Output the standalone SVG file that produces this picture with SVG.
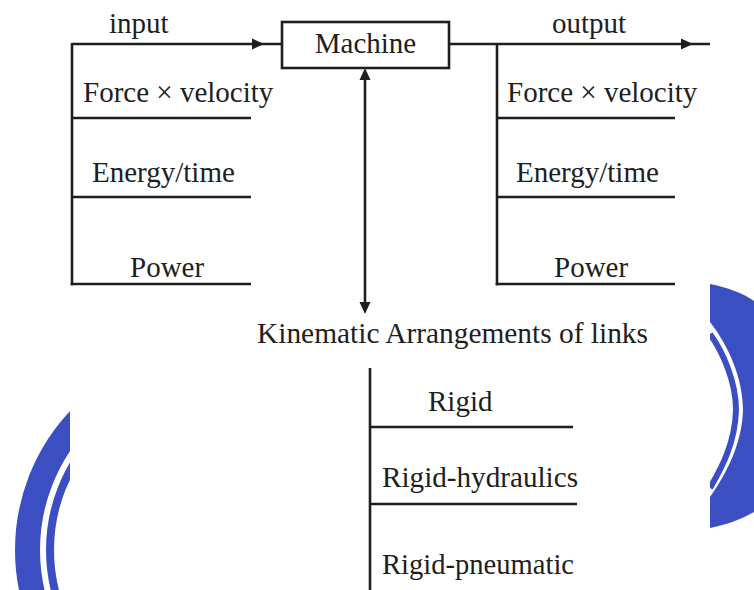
<svg xmlns="http://www.w3.org/2000/svg" xmlns:xlink="http://www.w3.org/1999/xlink" width="754" height="590" viewBox="0 0 754 590">
<style>
  text { font-family: "Liberation Serif", "Times New Roman", serif; font-size: 29px; fill: #1e1e1e; }
  .ln { stroke: #1e1e1e; stroke-width: 2.6; fill: none; stroke-linecap: butt; }
  .stamp { fill: none; stroke: #3c4fc2; }
  .stampfill { fill: #3c4fc2; stroke: none; }
</style>
<defs>
  <path id="ah" d="M0,0 L-12,-5.5 L-12,5.5 Z" fill="#1e1e1e"/>
</defs>
<rect x="0" y="0" width="754" height="590" fill="#ffffff"/>
<g id="background-stamps">
  <circle class="stamp" cx="218" cy="550" r="190.5" stroke-width="25"/>
  <circle class="stamp" cx="218" cy="550" r="168" stroke-width="8"/>
  <path class="stampfill" d="M710,284 C726,287 745,294 754,301 L754,512 C740,520 725,525 710,528 L710,497 C722,480 742,448 743,410 C743,378 728,345 710,322 Z"/>
  <path class="stamp" stroke-width="6" d="M710,488 C719,472 735,446 736,410 C736,382 723,352 710,334"/>
  <rect x="70" y="0" width="640" height="590" fill="#ffffff"/>
</g>
<g id="connectors">
  <path class="ln" d="M72,44 H282"/>
  <use xlink:href="#ah" transform="translate(264,44)"/>
  <path class="ln" d="M449,44 H710"/>
  <use xlink:href="#ah" transform="translate(693,44)"/>
  <path class="ln" d="M365,78 V303"/>
  <use xlink:href="#ah" transform="translate(365,68) rotate(-90)"/>
  <use xlink:href="#ah" transform="translate(365,314) rotate(90)"/>
</g>
<g id="machine">
  <rect x="282" y="22" width="167" height="46" fill="#ffffff" stroke="#1e1e1e" stroke-width="2.6"/>
  <text x="365.5" y="53" text-anchor="middle">Machine</text>
</g>
<g id="input">
  <text x="109" y="33">input</text>
  <path class="ln" d="M72,43 V285.3"/>
  <path class="ln" d="M72,118 H251 M72,197 H251 M70.7,284 H251"/>
  <text x="83" y="102">Force × velocity</text>
  <text x="92" y="182">Energy/time</text>
  <text x="130" y="277">Power</text>
</g>
<g id="output">
  <text x="552" y="33">output</text>
  <path class="ln" d="M497,44 V285.3"/>
  <path class="ln" d="M497,118 H675 M497,197 H675 M495.7,284 H675"/>
  <text x="507" y="102">Force × velocity</text>
  <text x="516" y="182">Energy/time</text>
  <text x="554" y="277">Power</text>
</g>
<g id="kinematic">
  <text x="257" y="343" textLength="391" lengthAdjust="spacingAndGlyphs">Kinematic Arrangements of links</text>
  <path class="ln" d="M370,368 V590"/>
  <path class="ln" d="M370,427 H573 M370,504 H577"/>
  <text x="428" y="411">Rigid</text>
  <text x="382" y="487" textLength="196" lengthAdjust="spacingAndGlyphs">Rigid-hydraulics</text>
  <text x="382" y="574" textLength="192" lengthAdjust="spacingAndGlyphs">Rigid-pneumatic</text>
</g>
</svg>
